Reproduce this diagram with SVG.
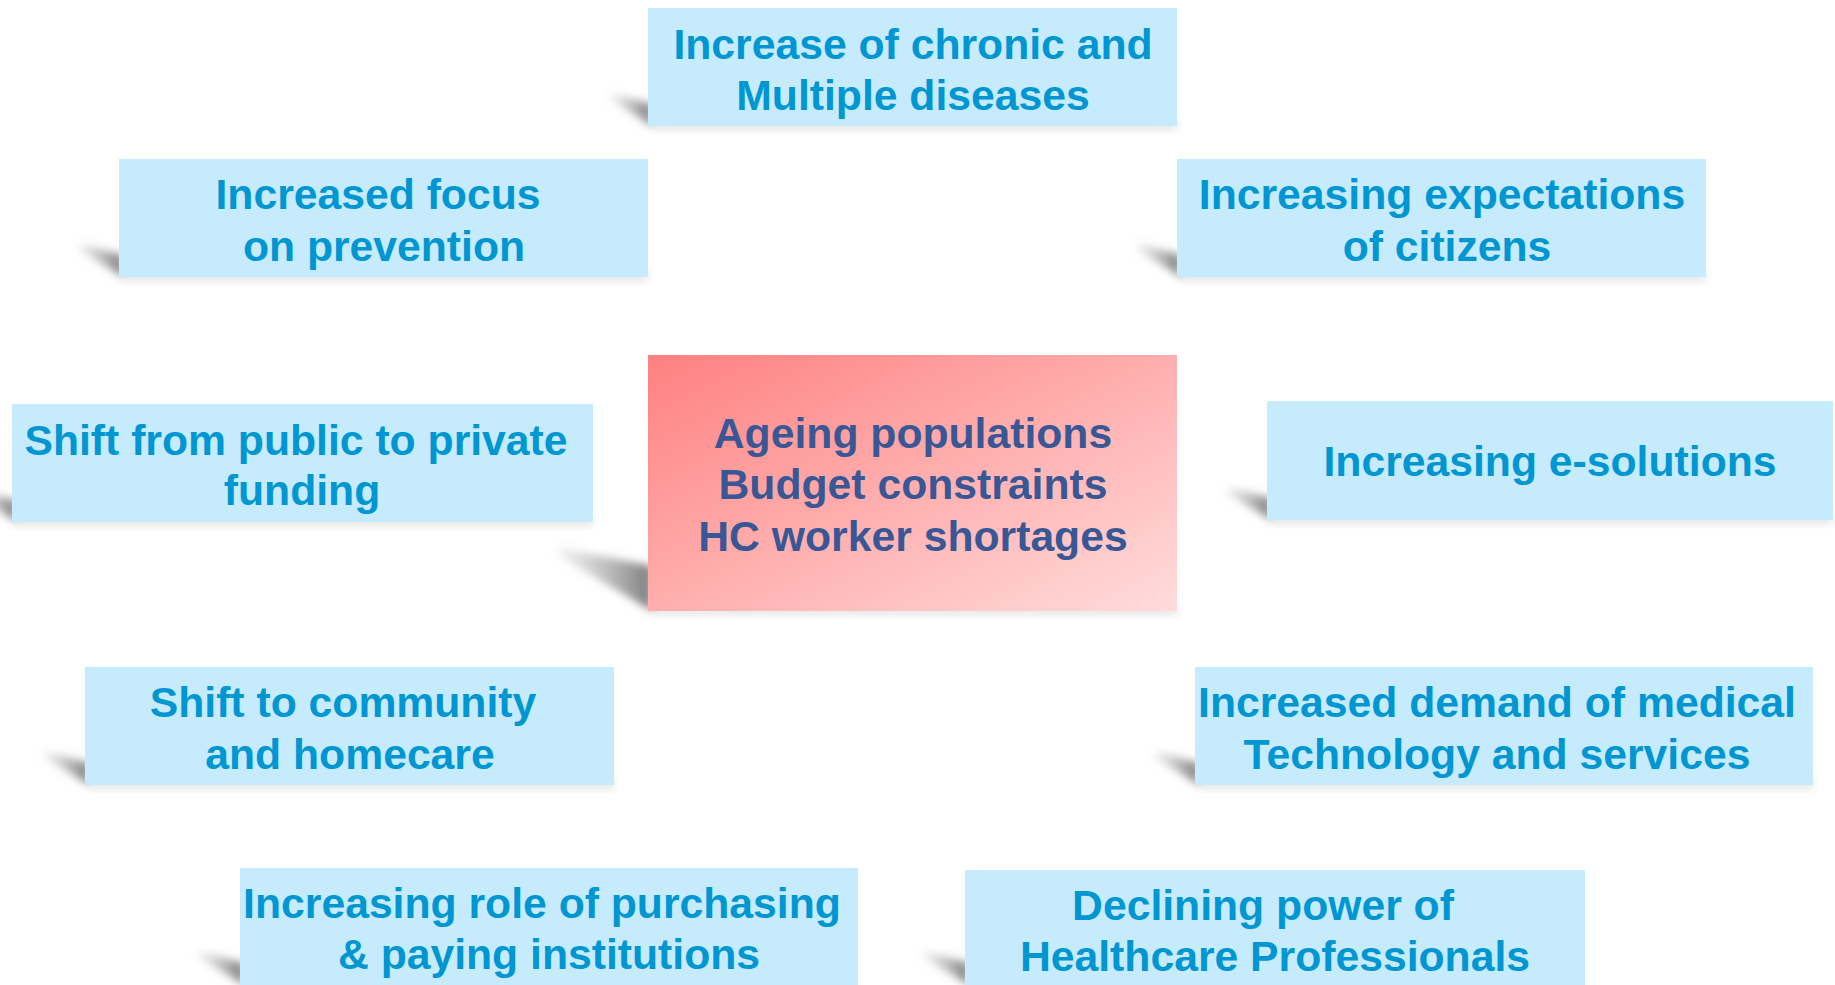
<svg xmlns="http://www.w3.org/2000/svg" width="1835" height="985" viewBox="0 0 1835 985">
<defs>
<style>
.box{fill:#C5EBFC}
.t{font-family:"Liberation Sans",Arial,sans-serif;font-weight:bold;font-size:42.7px;fill:#0096D2;text-anchor:middle}
.tc{fill:#3A5795}
.sh{fill:url(#shg);filter:url(#blur)}
.soft{fill:#000;opacity:0.10;filter:url(#blur2)}
</style>
<linearGradient id="cg" x1="0" y1="0" x2="1" y2="1">
<stop offset="0" stop-color="#FF8080"/>
<stop offset="1" stop-color="#FFDCDC"/>
</linearGradient>
<linearGradient id="shg" x1="1" y1="0" x2="0" y2="0">
<stop offset="0" stop-color="#6E6E6E" stop-opacity="0.9"/>
<stop offset="1" stop-color="#9A9A9A" stop-opacity="0.1"/>
</linearGradient>
<filter id="blur" x="-50%" y="-50%" width="200%" height="200%"><feGaussianBlur stdDeviation="4"/></filter>
<filter id="blur2" x="-10%" y="-50%" width="120%" height="200%"><feGaussianBlur stdDeviation="4"/></filter>
</defs>

<g id="shadows">
<polygon class="sh" points="652,126 608,98 614,94 652,104"/>
<polygon class="sh" points="123,277 76,248 82,244 123,255"/>
<polygon class="sh" points="1181,277 1134,248 1140,244 1181,255"/>
<polygon class="sh" points="16,522 -24,496 -18,492 16,500"/>
<polygon class="sh" points="1271,520 1224,492 1230,488 1271,498"/>
<polygon class="sh" points="652,611 556,554 562,548 652,566"/>
<polygon class="sh" points="89,785 42,756 48,752 89,763"/>
<polygon class="sh" points="1199,785 1152,756 1158,752 1199,763"/>
<polygon class="sh" points="244,985 196,956 202,952 244,963"/>
<polygon class="sh" points="969,985 921,956 927,952 969,963"/>
<rect class="soft" x="652" y="120" width="525" height="10"/>
<rect class="soft" x="123" y="271" width="525" height="10"/>
<rect class="soft" x="1181" y="271" width="525" height="10"/>
<rect class="soft" x="16" y="516" width="577" height="10"/>
<rect class="soft" x="1271" y="514" width="562" height="10"/>
<rect class="soft" x="652" y="605" width="525" height="10"/>
<rect class="soft" x="89" y="779" width="525" height="10"/>
<rect class="soft" x="1199" y="779" width="614" height="10"/>
</g>

<g id="connectors"/>

<g id="n-center">
<rect x="648" y="355" width="529" height="256" fill="url(#cg)"/>
<text class="t tc" x="913" y="448">Ageing populations</text>
<text class="t tc" x="913" y="499">Budget constraints</text>
<text class="t tc" x="913" y="551">HC worker shortages</text>
</g>

<g id="n-chronic">
<rect class="box" x="648" y="8" width="529" height="118"/>
<text class="t" x="913" y="59">Increase of chronic and</text>
<text class="t" x="913" y="110">Multiple diseases</text>
</g>

<g id="n-prevention">
<rect class="box" x="119" y="159" width="529" height="118"/>
<text class="t" x="378" y="209">Increased focus</text>
<text class="t" x="384" y="261">on prevention</text>
</g>

<g id="n-expectations">
<rect class="box" x="1177" y="159" width="529" height="118"/>
<text class="t" x="1442" y="209">Increasing expectations</text>
<text class="t" x="1447" y="261">of citizens</text>
</g>

<g id="n-funding">
<rect class="box" x="12" y="404" width="581" height="118"/>
<text class="t" x="296" y="455">Shift from public to private</text>
<text class="t" x="302" y="505">funding</text>
</g>

<g id="n-esolutions">
<rect class="box" x="1267" y="401" width="566" height="119"/>
<text class="t" x="1550" y="476">Increasing e-solutions</text>
</g>

<g id="n-community">
<rect class="box" x="85" y="667" width="529" height="118"/>
<text class="t" x="343" y="717">Shift to community</text>
<text class="t" x="350" y="769">and homecare</text>
</g>

<g id="n-demand">
<rect class="box" x="1195" y="667" width="618" height="118"/>
<text class="t" x="1497" y="717">Increased demand of medical</text>
<text class="t" x="1497" y="769">Technology and services</text>
</g>

<g id="n-purchasing">
<rect class="box" x="240" y="868" width="618" height="117"/>
<text class="t" x="542" y="918">Increasing role of purchasing</text>
<text class="t" x="549" y="969">&amp; paying institutions</text>
</g>

<g id="n-professionals">
<rect class="box" x="965" y="870" width="620" height="115"/>
<text class="t" x="1263" y="920">Declining power of</text>
<text class="t" x="1275" y="971">Healthcare Professionals</text>
</g>
</svg>
